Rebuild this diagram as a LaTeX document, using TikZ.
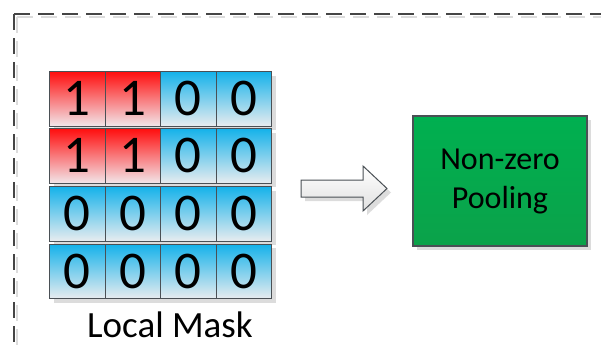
\documentclass[tikz,border=0pt]{standalone}
\usepackage{fontspec}
\setmainfont{Carlito}
\usetikzlibrary{shadows}
\definecolor{framegray}{HTML}{454545}
\definecolor{shadowgray}{HTML}{DCDCDC}
\definecolor{cellborder}{HTML}{4A5055}
\definecolor{redtop}{HTML}{FF0E0E}
\definecolor{redbot}{HTML}{F2E6EA}
\definecolor{bluetop}{HTML}{15B2EA}
\definecolor{bluebot}{HTML}{E8ECEF}
\definecolor{greentop}{HTML}{00B050}
\definecolor{greenbot}{HTML}{0BA24A}
\tikzset{
  cellbox/.style={rectangle, anchor=north west, minimum width=55.5pt, minimum height=54.5pt,
    inner sep=0pt, draw=cellborder, line width=1.2pt, font=\fontsize{53}{53}\selectfont,
    drop shadow={shadow xshift=4pt, shadow yshift=-4pt, fill=shadowgray, opacity=1}},
  redcell/.style={cellbox, top color=redtop, bottom color=redbot},
  bluecell/.style={cellbox, top color=bluetop, bottom color=bluebot},
  poolbox/.style={rectangle, minimum width=174pt, minimum height=130pt, inner sep=0pt,
    draw=cellborder, line width=1.2pt, top color=greentop, bottom color=greenbot,
    align=center, font=\fontsize{32}{39}\selectfont,
    drop shadow={shadow xshift=4pt, shadow yshift=-4pt, fill=shadowgray, opacity=1}},
  framedash/.style={draw=framegray, line width=2pt, dash pattern=on 16pt off 8pt},
  frameshadow/.style={draw=shadowgray, line width=2pt, dash pattern=on 16pt off 8pt},
  blockarrow/.style={draw=cellborder, line width=1pt, top color=white, bottom color=black!12},
}
\begin{document}
\begin{tikzpicture}[x=1pt,y=-1pt]
\useasboundingbox (0,0) rectangle (601,348);
% dashed frame
\draw[frameshadow] (17,17) -- (650,17);
\draw[frameshadow] (17,17) -- (17,400);
\draw[framedash] (14,14) -- (650,14);
\draw[framedash] (14,14) -- (14,400);
% grid
\foreach \r/\y in {1/71,2/128,3/186,4/243.5}{
  \foreach \c in {1,2,3,4}{
    \pgfmathsetmacro{\xx}{49+55.5*(\c-1)}
    \ifnum\r<3
      \ifnum\c<3
        \node[redcell] (c\r\c) at (\xx,\y) {1};
      \else
        \node[bluecell] (c\r\c) at (\xx,\y) {0};
      \fi
    \else
      \node[bluecell] (c\r\c) at (\xx,\y) {0};
    \fi
  }
}
\node[anchor=base, font=\fontsize{37}{37}\selectfont, inner sep=0pt] (label) at (170,337) {Local Mask};
% pooling box
\node[poolbox] (pool) at (500,181) {Non-zero\\Pooling};
% block arrow
\coordinate (as) at (301,188.5);
\coordinate (at) at (387,188.5);
\fill[shadowgray] ([shift={(4,4)}]as) ++(0,-8.5) -- ++(62,0) -- ++(0,-14) -- ([shift={(4,4)}]at) -- ++(-24,22.5) -- ++(0,-14) -- ++(-62,0) -- cycle;
\path[blockarrow] (as) ++(0,-8.5) -- ++(62,0) -- ++(0,-14) -- (at) -- ++(-24,22.5) -- ++(0,-14) -- ++(-62,0) -- cycle;
\end{tikzpicture}
\end{document}
